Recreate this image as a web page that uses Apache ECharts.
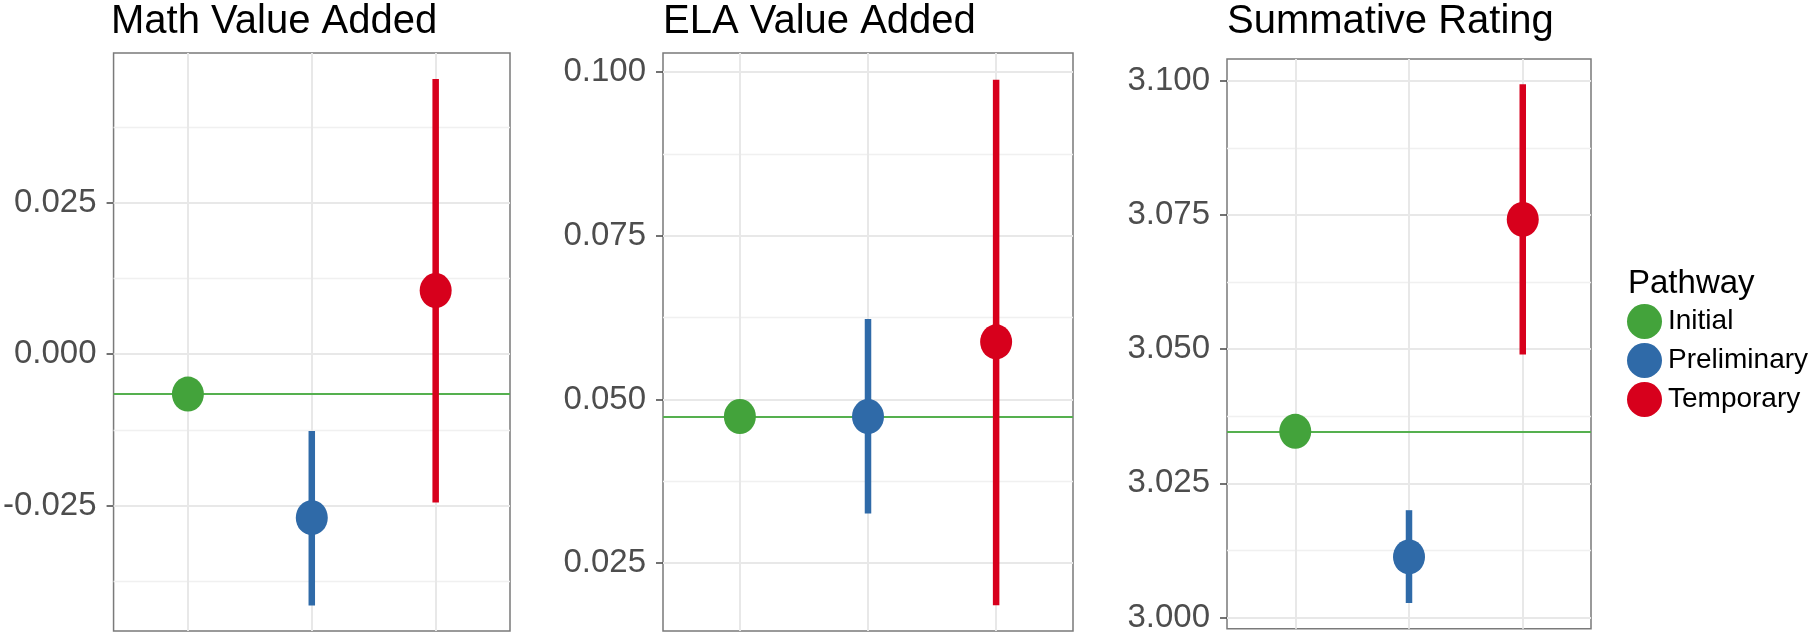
<!DOCTYPE html>
<html>
<head>
<meta charset="utf-8">
<script src="https://cdn.jsdelivr.net/npm/echarts@6/dist/echarts.min.js"></script>
<style>
html,body{margin:0;padding:0;background:#fff;}
#chart{width:1814px;height:634px;}
</style>
</head>
<body>
<div id="chart"></div>
<script>
// ---- data ----
const pathways = ['Initial', 'Preliminary', 'Temporary'];
const panelTitles = ['Math Value Added', 'ELA Value Added', 'Summative Rating'];
const legendTitle = 'Pathway';

const mathEst  = [-0.0066, -0.0270, 0.0105];
const mathLow  = [null, -0.0415, -0.0245];
const mathHigh = [null, -0.0127, 0.0454];

const elaEst  = [0.0474, 0.0474, 0.0588];
const elaLow  = [null, 0.0326, 0.0186];
const elaHigh = [null, 0.0623, 0.0988];

const sumEst  = [3.0347, 3.0113, 3.0742];
const sumLow  = [null, 3.0027, 3.0490];
const sumHigh = [null, 3.0200, 3.0994];

const mathTicks = [-0.025, 0.000, 0.025];
const elaTicks  = [0.025, 0.050, 0.075, 0.100];
const sumTicks  = [3.000, 3.025, 3.050, 3.075, 3.100];

const mathRange = [-0.0457, 0.0497];
const elaRange  = [0.01465, 0.1029];
const sumRange  = [2.9979, 3.1041];

// ---- styling ----
const colors = ['#43a33b', '#2f6aa8', '#d7001c'];
const FONT = 'Liberation Sans, Arial, Helvetica, sans-serif';

const panels = [
  {est: mathEst, low: mathLow, high: mathHigh, ticks: mathTicks, range: mathRange,
   grid: {left: 111, top: 53, width: 399, height: 578}},
  {est: elaEst, low: elaLow, high: elaHigh, ticks: elaTicks, range: elaRange,
   grid: {left: 663, top: 53, width: 410, height: 578}},
  {est: sumEst, low: sumLow, high: sumHigh, ticks: sumTicks, range: sumRange,
   grid: {left: 1227, top: 59, width: 364, height: 572}}
];

function minorValues(ticks, range) {
  const step = ticks[1] - ticks[0];
  const out = [];
  for (let i = -1; i < ticks.length; i++) {
    const v = ticks[0] + step * (i + 0.5);
    if (v > range[0] && v < range[1]) out.push(v);
  }
  return out;
}

const grids = [], xAxes = [], yAxes = [], series = [], titles = [];

panels.forEach((p, i) => {
  grids.push(Object.assign({
    show: true, borderColor: '#7a7a7a', borderWidth: 1.5, backgroundColor: '#fff',
    containLabel: false
  }, p.grid));

  xAxes.push({
    type: 'value', gridIndex: i, min: 0.4, max: 3.6,
    axisLine: {show: false}, axisTick: {show: false},
    axisLabel: {show: false}, splitLine: {show: false}
  });

  yAxes.push({
    type: 'value', gridIndex: i, min: p.range[0], max: p.range[1],
    axisLine: {show: false},
    axisTick: {show: true, length: 7, customValues: p.ticks,
               lineStyle: {color: '#444', width: 1.5}},
    axisLabel: {show: true, customValues: p.ticks, margin: 17,
                fontSize: 33, color: '#4d4d4d', fontFamily: FONT,
                formatter: v => v.toFixed(3)},
    splitLine: {show: false}
  });

  titles.push({
    text: panelTitles[i], left: p.grid.left, top: 2, padding: 0,
    textStyle: {fontSize: 40, fontWeight: 'normal', color: '#000', fontFamily: FONT}
  });

  const minors = minorValues(p.ticks, p.range);
  const gridLines = [];
  minors.forEach(v => gridLines.push({yAxis: v, lineStyle: {color: '#f0f0f0', width: 1.3, type: 'solid'}}));
  p.ticks.forEach(v => gridLines.push({yAxis: v, lineStyle: {color: '#e8e8e8', width: 2, type: 'solid'}}));
  [1, 2, 3].forEach(v => gridLines.push({xAxis: v, lineStyle: {color: '#e8e8e8', width: 2, type: 'solid'}}));

  // background grid lines
  series.push({
    type: 'line', xAxisIndex: i, yAxisIndex: i, data: [], silent: true, z: 1,
    markLine: {silent: true, z: 1, precision: 10, symbol: ['none', 'none'], label: {show: false},
               animation: false, data: gridLines}
  });

  // reference line at Initial estimate
  series.push({
    type: 'line', xAxisIndex: i, yAxisIndex: i, data: [], silent: true, z: 2,
    markLine: {silent: true, z: 2, precision: 10, symbol: ['none', 'none'], label: {show: false},
               animation: false,
               data: [{yAxis: p.est[0], lineStyle: {color: '#55b04f', width: 2, type: 'solid'}}]}
  });

  // error bars
  const barData = [];
  pathways.forEach((name, k) => {
    if (p.low[k] != null) barData.push({value: [k + 1, p.low[k], p.high[k]], itemStyle: {color: colors[k]}});
  });
  series.push({
    type: 'custom', xAxisIndex: i, yAxisIndex: i, z: 10, silent: true,
    data: barData,
    renderItem: (params, api) => {
      const a = api.coord([api.value(0), api.value(1)]);
      const b = api.coord([api.value(0), api.value(2)]);
      return {type: 'line', shape: {x1: a[0], y1: a[1], x2: b[0], y2: b[1]},
              style: {stroke: api.visual('color'), lineWidth: 6.5, lineCap: 'butt'}};
    }
  });

  // points
  pathways.forEach((name, k) => {
    series.push({
      type: 'scatter', name: name, xAxisIndex: i, yAxisIndex: i, z: 12,
      symbol: 'circle', symbolSize: [32, 35],
      itemStyle: {color: colors[k], opacity: 1},
      data: [[k + 1, p.est[k]]]
    });
  });
});

titles.push({
  text: legendTitle, left: 1628, top: 267, padding: 0,
  textStyle: {fontSize: 33, fontWeight: 'normal', color: '#000', fontFamily: FONT}
});

const option = {
  animation: false,
  backgroundColor: '#fff',
  title: titles,
  grid: grids,
  xAxis: xAxes,
  yAxis: yAxes,
  legend: {
    orient: 'vertical', left: 1627, top: 304, padding: 0,
    itemWidth: 35, itemHeight: 37, itemGap: 4,
    icon: 'circle',
    data: pathways.map((n, k) => ({name: n, itemStyle: {color: colors[k]}})),
    textStyle: {fontSize: 28, color: '#000', fontFamily: FONT, padding: [0, 0, 0, 1]},
    selectedMode: false
  },
  series: series
};

const chart = echarts.init(document.getElementById('chart'), null, {renderer: 'canvas'});
chart.setOption(option);
</script>
</body>
</html>
